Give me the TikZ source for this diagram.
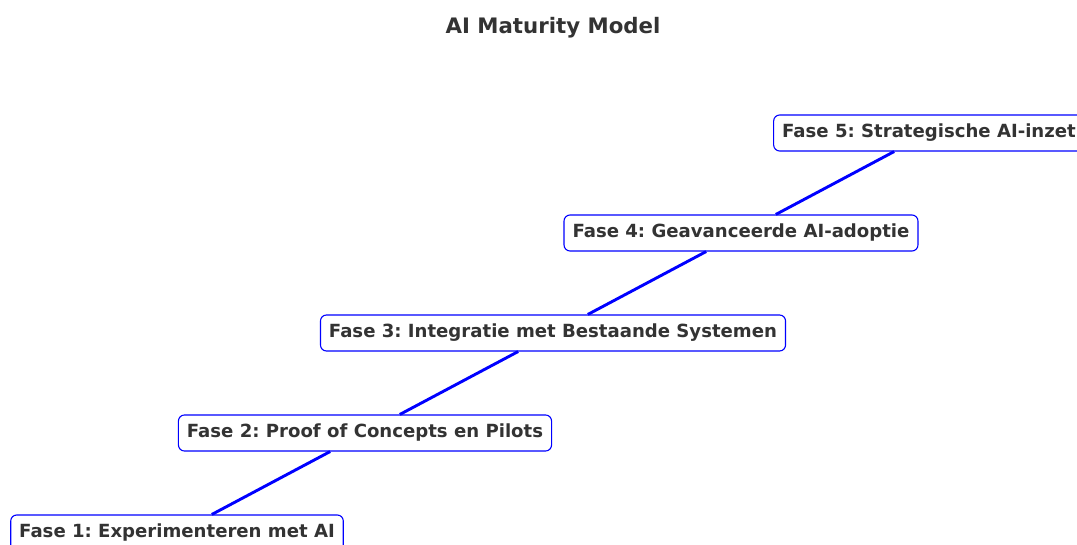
\documentclass[tikz,border=0pt]{standalone}
\usepackage{fontspec}
\setmainfont{DejaVu Sans}
\definecolor{textgray}{HTML}{333333}
\tikzset{
    phase/.style={draw=blue, fill=white, rounded corners=6pt, line width=1.1pt,
        inner xsep=8.5pt, minimum height=36pt, text=textgray,
        font=\bfseries\fontsize{18.1}{21}\selectfont},
    stepline/.style={blue, line width=2.9pt}
}
\begin{document}
\frenchspacing
\begin{tikzpicture}[x=1pt, y=-1pt]
    % Canvas
    \useasboundingbox (0,0) rectangle (1077,545);
    \clip (0,0) rectangle (1077,545);
    
    % Title
    \node[text=textgray, font=\bfseries\fontsize{21.3}{24}\selectfont] (title) at (553,27.5) {AI Maturity Model};
    
    % Phases
    \foreach \i/\x/\y/\label in {1/177/533/Fase 1: Experimenteren met AI,
                                 2/365/433/Fase 2: Proof of Concepts en Pilots,
                                 3/553/333/Fase 3: Integratie met Bestaande Systemen,
                                 4/741/233/Fase 4: Geavanceerde AI-adoptie,
                                 5/929/133/Fase 5: Strategische AI-inzet} {
        \node[phase] (f\i) at (\x,\y) {\label};
    }
    
    % Connecting line
    \foreach \i/\j in {1/2, 2/3, 3/4, 4/5} {
        \draw[stepline] (f\i) -- (f\j);
    }
\end{tikzpicture}
\end{document}
